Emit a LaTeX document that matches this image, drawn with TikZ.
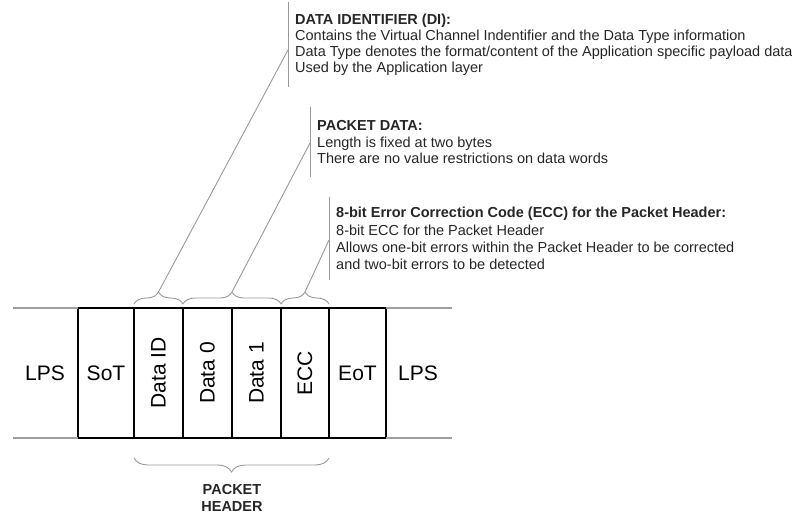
\documentclass[tikz,border=0pt]{standalone}
\usepackage{fontspec}
\setmainfont{Liberation Sans}
\usetikzlibrary{calc}
\usetikzlibrary{positioning}
\usetikzlibrary{decorations.pathreplacing}

\tikzset{
    cell/.style={draw=black,line width=1.6pt,minimum width=#1,minimum height=130pt,inner sep=0pt,outer sep=0pt,font=\fontsize{21}{25}\selectfont},
    big/.style={inner sep=0pt,font=\fontsize{21}{25}\selectfont},
    band/.style={gray!75,line width=1.3pt},
    leader/.style={gray!80,line width=0.9pt},
    note/.style={anchor=north west,align=left,inner xsep=7pt,inner ysep=0pt,text=black!85,font=\fontsize{14.5}{16.8}\selectfont},
    hdr/.style={decorate,decoration={brace,amplitude=12pt,raise=4pt},gray!80,line width=0.9pt}
}

\begin{document}
\begin{tikzpicture}[x=1pt,y=-1pt]
    \useasboundingbox (0,0) rectangle (792,515);
    % Packet cells
    \node[cell=56pt] (sot) at (106,373) {SoT};
    \node[cell=49pt, right=0pt of sot] (did) {\rotatebox{90}{Data ID}};
    \node[cell=49pt, right=0pt of did] (dzero) {\rotatebox{90}{Data 0}};
    \node[cell=49pt, right=0pt of dzero] (done) {\rotatebox{90}{Data 1}};
    \node[cell=48pt, right=0pt of done] (ecc) {\rotatebox{90}{ECC}};
    \node[cell=57pt, right=0pt of ecc] (eot) {EoT};
    \node[big, left=13pt of sot] (lpsl) {LPS};
    \node[big, right=12pt of eot] (lpsr) {LPS};
    % Line state bands
    \coordinate (bandlt) at (13,308);
    \coordinate (bandlb) at (13,438);
    \coordinate (bandrt) at (452,308);
    \coordinate (bandrb) at (452,438);
    \draw[band] (bandlt) -- (sot.north west);
    \draw[band] (bandlb) -- (sot.south west);
    \draw[band] (eot.north east) -- (bandrt);
    \draw[band] (eot.south east) -- (bandrb);
    % Braces over the header fields
    \draw[hdr] (did.north west) -- (did.north east);
    \draw[hdr] (dzero.north west) -- (done.north east);
    \draw[hdr] (ecc.north west) -- (ecc.north east);
    \coordinate (tipdi) at ($(did.north)+(0,-16)$);
    \coordinate (tippd) at ($(dzero.north east)+(0,-16)$);
    \coordinate (tipecc) at ($(ecc.north)+(0,-16)$);
    % Notes
    \node[note,minimum height=85pt,font=\fontsize{14.5}{15.8}\selectfont] (notedi) at (288,2) {\textbf{DATA IDENTIFIER (DI):}\\Contains the Virtual Channel Indentifier and the Data Type information\\Data Type denotes the format/content of the Application specific payload data\\Used by the Application layer};
    \node[note,minimum height=70pt] (notepd) at (310,107) {\textbf{PACKET DATA:}\\Length is fixed at two bytes\\There are no value restrictions on data words};
    \node[note,minimum height=83pt,font=\fontsize{14.5}{17.3}\selectfont] (noteecc) at (329,197) {\textbf{8-bit Error Correction Code (ECC) for the Packet Header:}\\8-bit ECC for the Packet Header\\Allows one-bit errors within the Packet Header to be corrected\\and two-bit errors to be detected};
    \draw[leader] (notedi.north west) -- (notedi.south west);
    \draw[leader] (notepd.north west) -- (notepd.south west);
    \draw[leader] (noteecc.north west) -- (noteecc.south west);
    \draw[leader] (tipdi) -- ($(notedi.north west)+(0,48)$); % DI leader
    \draw[leader] (tippd) -- ($(notepd.north west)+(0,36)$); % Data leader
    \draw[leader] (tipecc) -- ($(noteecc.north west)+(0,43)$); % ECC leader
    % Packet header brace
    \draw[decorate,decoration={brace,amplitude=14pt,raise=20pt},gray!80,line width=0.9pt] (ecc.south east) -- (did.south west);
    \node[align=center,font=\fontsize{14.5}{17}\selectfont\bfseries,text=black!85] (phdr) at (232,498) {PACKET\\HEADER};
\end{tikzpicture}
\end{document}
